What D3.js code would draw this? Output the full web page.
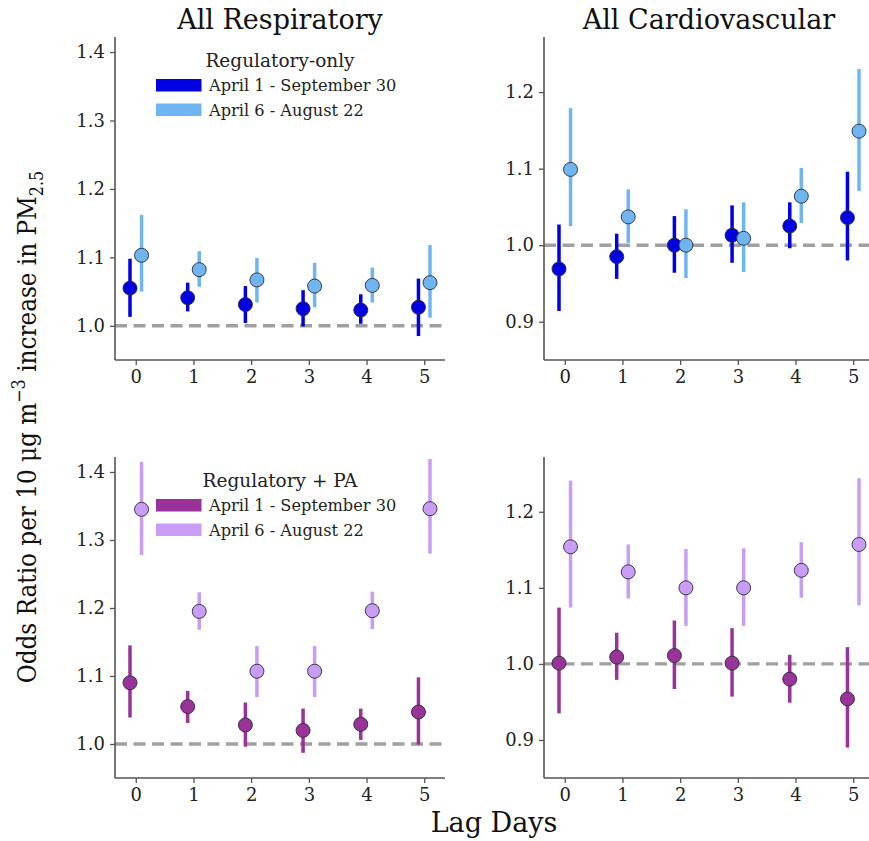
<!DOCTYPE html>
<html>
<head>
<meta charset="utf-8">
<script src="https://cdn.jsdelivr.net/npm/d3@7"></script>
<style>
  html, body { margin: 0; padding: 0; background: #fff; }
  svg { display: block; font-family: "DejaVu Serif", serif; }
</style>
</head>
<body>
<svg id="chart" width="869" height="841"></svg>
<script>
// Lag days on the x axis
const lags = [0, 1, 2, 3, 4, 5];
const lagTicks = ["0", "1", "2", "3", "4", "5"];

// Odds ratios as [estimate, lower CI, upper CI] for each lag day
// Respiratory, regulatory monitors only
const respRegFull  = [[1.055, 1.013, 1.098], [1.041, 1.021, 1.063], [1.031, 1.004, 1.058], [1.025, 0.999, 1.052], [1.023, 1.003, 1.046], [1.027, 0.985, 1.069]];
const respRegShort = [[1.103, 1.050, 1.162], [1.082, 1.057, 1.109], [1.067, 1.034, 1.099], [1.058, 1.027, 1.092], [1.059, 1.034, 1.085], [1.063, 1.012, 1.118]];
// Cardiovascular, regulatory monitors only
const cardRegFull  = [[0.969, 0.914, 1.027], [0.985, 0.956, 1.015], [1.000, 0.964, 1.038], [1.013, 0.977, 1.052], [1.025, 0.996, 1.056], [1.036, 0.980, 1.096]];
const cardRegShort = [[1.099, 1.025, 1.179], [1.037, 1.003, 1.073], [1.000, 0.957, 1.047], [1.009, 0.965, 1.056], [1.064, 1.029, 1.101], [1.149, 1.071, 1.230]];
// Respiratory, regulatory + PurpleAir
const respPAFull   = [[1.090, 1.039, 1.145], [1.055, 1.031, 1.078], [1.028, 0.996, 1.061], [1.020, 0.987, 1.052], [1.029, 1.006, 1.052], [1.047, 0.999, 1.098]];
const respPAShort  = [[1.345, 1.278, 1.415], [1.195, 1.168, 1.223], [1.107, 1.069, 1.144], [1.107, 1.069, 1.144], [1.196, 1.169, 1.224], [1.346, 1.280, 1.419]];
// Cardiovascular, regulatory + PurpleAir
const cardPAFull   = [[1.001, 0.935, 1.074], [1.009, 0.979, 1.041], [1.011, 0.967, 1.057], [1.001, 0.957, 1.047], [0.980, 0.949, 1.012], [0.954, 0.890, 1.022]];
const cardPAShort  = [[1.154, 1.074, 1.241], [1.121, 1.086, 1.157], [1.100, 1.050, 1.151], [1.100, 1.050, 1.152], [1.123, 1.087, 1.160], [1.157, 1.077, 1.244]];

// Axis ticks and labels
const respYTicks = [1.0, 1.1, 1.2, 1.3, 1.4];
const cardYTicks = [0.9, 1.0, 1.1, 1.2];
const colTitles = ["All Respiratory", "All Cardiovascular"];
const seasonLabels = ["April 1 - September 30", "April 6 - August 22"];
const legendTitles = ["Regulatory-only", "Regulatory + PA"];

const colors = {
  regFull: "#0000e0", regShort: "#6fb5f2",
  paFull: "#993399", paShort: "#c99cf5"
};

const svg = d3.select("#chart");

// Panel frame geometry
const cols = [{ x0: 115, x1: 445 }, { x0: 544, x1: 874 }];
const rows = [{ y0: 37, y1: 360 }, { y0: 457, y1: 778 }];
const yDomains = [[0.95, 1.422], [0.85, 1.272]];
const xDomain = [-0.36, 5.36];
const offset = 0.1;

const panels = [
  { col: 0, row: 0, full: respRegFull, short: respRegShort, cFull: colors.regFull, cShort: colors.regShort, legend: 0, ticks: respYTicks },
  { col: 1, row: 0, full: cardRegFull, short: cardRegShort, cFull: colors.regFull, cShort: colors.regShort, legend: null, ticks: cardYTicks },
  { col: 0, row: 1, full: respPAFull,  short: respPAShort,  cFull: colors.paFull,  cShort: colors.paShort,  legend: 1, ticks: respYTicks },
  { col: 1, row: 1, full: cardPAFull,  short: cardPAShort,  cFull: colors.paFull,  cShort: colors.paShort,  legend: null, ticks: cardYTicks }
];

const spineColor = "#555";

panels.forEach(p => {
  const c = cols[p.col], r = rows[p.row];
  const x = d3.scaleLinear().domain(xDomain).range([c.x0, c.x1]);
  const y = d3.scaleLinear().domain(yDomains[p.col]).range([r.y1, r.y0]);
  const g = svg.append("g");

  // Reference line at OR = 1
  g.append("line")
    .attr("x1", x(xDomain[0])).attr("x2", x(xDomain[1]))
    .attr("y1", y(1)).attr("y2", y(1))
    .attr("stroke", "#a0a0a0").attr("stroke-width", 3.4)
    .attr("stroke-dasharray", "12,6.5");

  // Axes
  const xAxis = d3.axisBottom(x).tickValues(lags).tickFormat((d, i) => lagTicks[i])
    .tickSize(5).tickPadding(5);
  const yAxis = d3.axisLeft(y).tickValues(p.ticks).tickFormat(d3.format(".1f"))
    .tickSize(5).tickPadding(5);

  const gx = g.append("g").attr("transform", `translate(0,${r.y1})`).call(xAxis);
  const gy = g.append("g").attr("transform", `translate(${c.x0},0)`).call(yAxis);
  [gx, gy].forEach(ax => {
    ax.select(".domain").attr("stroke", spineColor).attr("stroke-width", 1.6);
    ax.selectAll(".tick line").attr("stroke", spineColor).attr("stroke-width", 1.3);
    ax.selectAll(".tick text").attr("fill", "#222")
      .style("font-family", "DejaVu Serif").style("font-size", "18px");
  });
  // Spines: plain lines without the end ticks
  gx.select(".domain").attr("d", `M${c.x0},0H${c.x1}`);
  gy.select(".domain").attr("d", `M0,${r.y1}V${r.y0}`);

  // Error bars and point estimates for both seasons
  const series = [
    { data: p.full,  dx: -offset, color: p.cFull },
    { data: p.short, dx: offset,  color: p.cShort }
  ];
  series.forEach(s => {
    const sg = g.append("g");
    sg.selectAll("line.err").data(s.data).join("line")
      .attr("class", "err")
      .attr("x1", (d, i) => x(lags[i] + s.dx)).attr("x2", (d, i) => x(lags[i] + s.dx))
      .attr("y1", d => y(d[1])).attr("y2", d => y(d[2]))
      .attr("stroke", s.color).attr("stroke-width", 3.5);
    sg.selectAll("circle").data(s.data).join("circle")
      .attr("cx", (d, i) => x(lags[i] + s.dx))
      .attr("cy", d => y(d[0]))
      .attr("r", 7)
      .attr("fill", s.color)
      .attr("stroke", "#2a2a3a").attr("stroke-width", 0.9);
  });

  // Legend
  if (p.legend !== null) {
    const lx = 156, ly = r.y0;
    const lg = g.append("g");
    lg.append("text")
      .attr("x", 280).attr("y", ly + 29.5)
      .attr("text-anchor", "middle")
      .style("font-size", "18.5px").attr("fill", "#222")
      .text(legendTitles[p.legend]);
    [p.cFull, p.cShort].forEach((col, i) => {
      lg.append("rect")
        .attr("x", lx).attr("y", ly + 42 + i * 24.5)
        .attr("width", 45.5).attr("height", 12.5)
        .attr("fill", col);
      lg.append("text")
        .attr("x", lx + 53).attr("y", ly + 54 + i * 24.5)
        .style("font-size", "16.2px").attr("fill", "#222")
        .text(seasonLabels[i]);
    });
  }

  // Column titles
  if (p.row === 0) {
    svg.append("text")
      .attr("x", (c.x0 + c.x1) / 2).attr("y", 29)
      .attr("text-anchor", "middle")
      .style("font-size", "27px").attr("fill", "#111")
      .text(colTitles[p.col]);
  }
});

// Shared x label
svg.append("text")
  .attr("x", 494).attr("y", 832)
  .attr("text-anchor", "middle")
  .style("font-size", "27px").attr("fill", "#111")
  .text("Lag Days");

// Shared y label with superscript and subscript, slightly condensed along its run
const yl = svg.append("text")
  .attr("transform", "translate(36,427) rotate(-90) scale(0.89,1)")
  .attr("text-anchor", "middle")
  .style("font-size", "26px").attr("fill", "#111");
yl.append("tspan").text("Odds Ratio per 10 μg m");
yl.append("tspan").attr("dy", -11).style("font-size", "18px").text("−3");
yl.append("tspan").attr("dy", 11).text(" increase in PM");
yl.append("tspan").attr("dy", 7).style("font-size", "18px").text("2.5");
</script>
</body>
</html>
